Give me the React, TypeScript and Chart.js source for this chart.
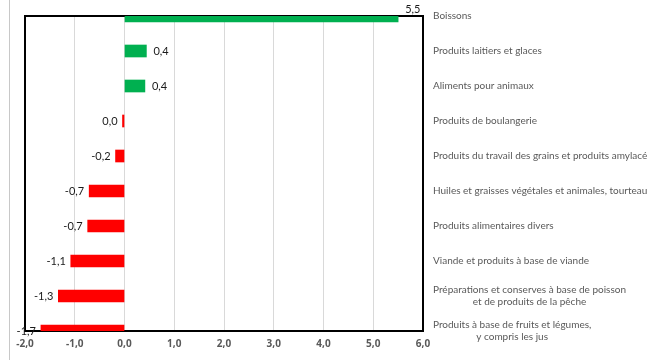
import React, { useEffect, useRef } from "react";
import { Chart, registerables } from "chart.js";

Chart.register(...registerables);

const categories: (string | string[])[] = [
  "Boissons",
  "Produits laitiers et glaces",
  "Aliments pour animaux",
  "Produits de boulangerie",
  "Produits du travail des grains et produits amylacés",
  "Huiles et graisses végétales et animales, tourteaux",
  "Produits alimentaires divers",
  "Viande et produits à base de viande",
  ["Préparations et conserves à base de poisson", "et de produits de la pêche"],
  ["Produits à base de fruits et légumes,", "y compris les jus"],
];

const values: number[] = [5.5, 0.44, 0.41, -0.04, -0.18, -0.71, -0.74, -1.08, -1.33, -1.68];

const xMin = -2;
const xMax = 6;
const xStep = 1;

const GREEN = "#00b050";
const RED = "#ff0000";

const fmt = (v: number) => {
  let s = v.toFixed(1);
  if (s === "-0.0") s = "0.0";
  return s.replace(".", ",");
};

const FONT = "Lato, 'Open Sans', sans-serif";

const decorPlugin = {
  id: "decor",
  beforeDraw(chart: any) {
    const ctx = chart.ctx;
    ctx.save();
    ctx.fillStyle = "#ffffff";
    ctx.fillRect(0, 0, chart.width, chart.height);
    ctx.fillStyle = "#c8c8c8";
    ctx.fillRect(9, 0, 1, chart.height);
    ctx.restore();
  },
  beforeDatasetsDraw(chart: any) {
    const { ctx, chartArea } = chart;
    ctx.save();
    ctx.strokeStyle = "#000000";
    ctx.lineWidth = 2;
    ctx.strokeRect(chartArea.left, chartArea.top, chartArea.right - chartArea.left, chartArea.bottom - chartArea.top);
    ctx.restore();
  },
  afterDatasetsDraw(chart: any) {
    const { ctx, chartArea } = chart;
    const meta = chart.getDatasetMeta(0);
    const yScale = chart.scales.y;
    ctx.save();
    ctx.font = `11px ${FONT}`;
    ctx.fillStyle = "#1a1a1a";
    ctx.textBaseline = "middle";
    meta.data.forEach((bar: any, i: number) => {
      const v = values[i];
      let y = bar.y;
      if (y <= chartArea.top + 1) y = chartArea.top - 7;
      if (v >= 0) {
        ctx.textAlign = "left";
        ctx.fillText(fmt(v), bar.x + 7, y);
      } else {
        ctx.textAlign = "right";
        ctx.fillText(fmt(v), bar.x - 5, y);
      }
    });
    ctx.font = `10px ${FONT}`;
    ctx.fillStyle = "#595959";
    const x0 = chartArea.right + 10;
    const lh = 12;
    categories.forEach((c, i) => {
      const lines = Array.isArray(c) ? c : [c];
      const yc = yScale.getPixelForValue(i);
      const w = Math.max(...lines.map((l) => ctx.measureText(l).width));
      const startY = yc - ((lines.length - 1) * lh) / 2;
      lines.forEach((l, k) => {
        if (lines.length > 1) {
          ctx.textAlign = "center";
          ctx.fillText(l, x0 + w / 2, startY + k * lh);
        } else {
          ctx.textAlign = "left";
          ctx.fillText(l, x0, startY + k * lh);
        }
      });
    });
    ctx.restore();
  },
};

export default function App() {
  const ref = useRef<HTMLCanvasElement>(null);
  useEffect(() => {
    if (!ref.current) return;
    const chart = new Chart(ref.current, {
      type: "bar",
      data: {
        labels: categories as any,
        datasets: [
          {
            data: values,
            backgroundColor: values.map((v) => (v >= 0 ? GREEN : RED)),
            barThickness: 12,
            borderWidth: 0,
          },
        ],
      },
      options: {
        indexAxis: "y",
        animation: false,
        responsive: false,
        devicePixelRatio: 1,
        layout: { padding: { left: 25, top: 16, right: 0, bottom: 0 } },
        plugins: {
          legend: { display: false },
          tooltip: { enabled: false },
        },
        scales: {
          x: {
            type: "linear",
            min: xMin,
            max: xMax,
            ticks: {
              stepSize: xStep,
              callback: (v: any) => fmt(Number(v)),
              font: { family: "'Open Sans', sans-serif", size: 10, weight: 700 },
              color: "#595959",
              padding: 7,
            },
            grid: { color: "#d9d9d9", drawTicks: false, lineWidth: 1 },
            border: { display: false },
            afterFit: (s: any) => {
              s.height = 29;
            },
          },
          y: {
            type: "category",
            position: "right",
            offset: false,
            ticks: { display: false },
            grid: { display: false },
            border: { display: false },
            afterFit: (s: any) => {
              s.width = 224;
            },
          },
        },
      } as any,
      plugins: [decorPlugin],
    });
    return () => chart.destroy();
  }, []);
  return (
    <div style={{ position: "absolute", left: 0, top: 0, width: 647, height: 360 }}>
      <canvas ref={ref} width={647} height={360} style={{ display: "block" }} />
    </div>
  );
}
